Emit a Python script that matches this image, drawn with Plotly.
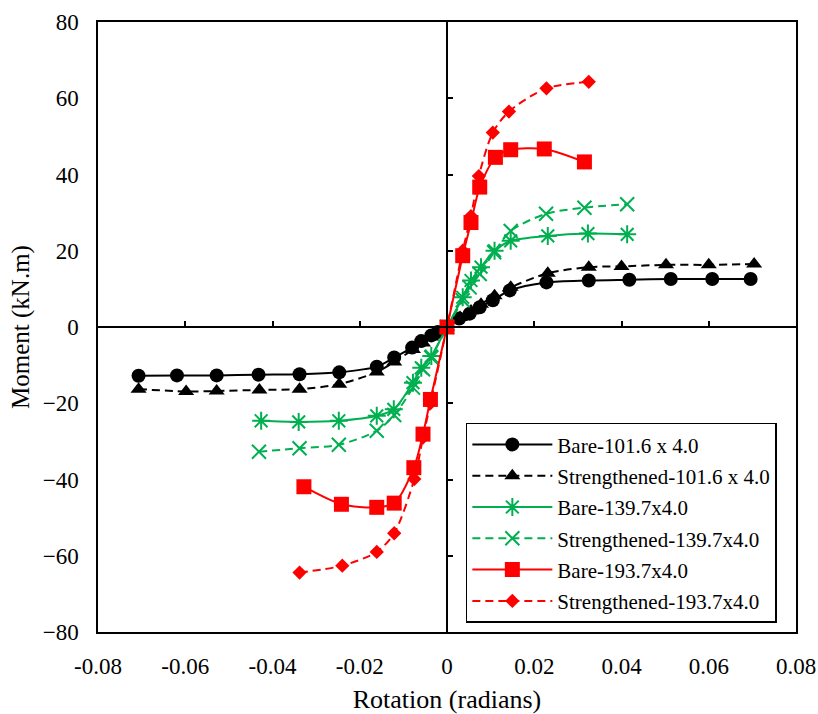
import plotly.graph_objects as go

# ---------------- data ----------------
bare101_x = [-0.0707, -0.0619, -0.0528, -0.0432, -0.0338, -0.0247, -0.0161, -0.0121, -0.0080, -0.0059, -0.0036, -0.0021,
             0.0, 0.0028, 0.0052, 0.0075, 0.0105, 0.0144, 0.0228, 0.0325, 0.0418, 0.0513, 0.0608, 0.0696]
bare101_y = [-12.8, -12.7, -12.7, -12.5, -12.4, -11.9, -10.4, -8.0, -5.4, -3.7, -2.2, -1.3,
             0.0, 2.2, 3.5, 5.2, 7.0, 9.6, 11.7, 12.2, 12.4, 12.6, 12.6, 12.6]

str101_x = [-0.0707, -0.0598, -0.0528, -0.0430, -0.0338, -0.0247, -0.0161, -0.0121, -0.0078, -0.0055, -0.0036,
            0.0, 0.0030, 0.0055, 0.0078, 0.0109, 0.0146, 0.0231, 0.0325, 0.0400, 0.0502, 0.0600, 0.0704]
str101_y = [-16.3, -16.9, -16.8, -16.5, -16.3, -15.0, -11.8, -9.2, -5.9, -4.2, -2.6,
            0.0, 2.5, 4.2, 6.0, 8.2, 10.4, 14.1, 15.7, 15.9, 16.3, 16.3, 16.5]

bare139_x = [-0.0426, -0.0340, -0.0248, -0.0161, -0.0122, -0.0078, -0.0059, -0.0036,
             0.0, 0.0036, 0.0055, 0.0078, 0.0109, 0.0146, 0.0231, 0.0323, 0.0413]
bare139_y = [-24.6, -24.9, -24.6, -23.3, -21.6, -14.6, -10.7, -7.6,
             0.0, 7.8, 12.2, 15.7, 20.0, 22.6, 23.9, 24.5, 24.3]

str139_x = [-0.0431, -0.0338, -0.0248, -0.0161, -0.0121, -0.0078, -0.0055, -0.0036,
            0.0, 0.0036, 0.0052, 0.0075, 0.0108, 0.0146, 0.0227, 0.0315, 0.0413]
str139_y = [-32.7, -31.8, -30.9, -27.2, -23.1, -15.9, -11.1, -8.0,
            0.0, 7.0, 10.4, 13.9, 19.6, 25.2, 29.7, 31.3, 32.2]

bare193_x = [-0.0328, -0.0242, -0.0161, -0.0121, -0.0076, -0.0055, -0.0038,
             0.0, 0.0036, 0.0055, 0.0075, 0.0111, 0.0146, 0.0223, 0.0315]
bare193_y = [-41.9, -46.5, -47.3, -46.2, -36.9, -28.1, -19.0,
             0.0, 18.7, 27.4, 36.7, 44.5, 46.5, 46.7, 43.3]

str193_x = [-0.0338, -0.0240, -0.0161, -0.0121, -0.0075, -0.0055, -0.0038,
            0.0, 0.0036, 0.0055, 0.0073, 0.0105, 0.0142, 0.0228, 0.0325]
str193_y = [-64.4, -62.6, -59.0, -54.1, -39.9, -29.0, -20.0,
            0.0, 20.0, 29.1, 39.6, 51.0, 56.5, 62.6, 64.3]

names = ["Bare-101.6 x 4.0", "Strengthened-101.6 x 4.0", "Bare-139.7x4.0",
         "Strengthened-139.7x4.0", "Bare-193.7x4.0", "Strengthened-193.7x4.0"]

x_ticks = [-0.08, -0.06, -0.04, -0.02, 0, 0.02, 0.04, 0.06, 0.08]
x_tick_text = ["-0.08", "-0.06", "-0.04", "-0.02", "0", "0.02", "0.04", "0.06", "0.08"]
y_ticks = [-80, -60, -40, -20, 0, 20, 40, 60, 80]

# ---------------- styles ----------------
BLACK = "#000000"
GREEN = "#00B050"
RED = "#FF0000"
FONT = "Liberation Serif"
DASH = "8px,5px"

series = [
    (bare101_x, bare101_y, BLACK, "solid", dict(symbol="circle", size=14, color=BLACK)),
    (str101_x, str101_y, BLACK, DASH, dict(symbol="triangle-up", size=14, color=BLACK)),
    (bare139_x, bare139_y, GREEN, "solid",
     dict(symbol="asterisk-open", size=15, color=GREEN, line=dict(color=GREEN, width=2))),
    (str139_x, str139_y, GREEN, DASH,
     dict(symbol="x-thin-open", size=14, color=GREEN, line=dict(color=GREEN, width=2))),
    (bare193_x, bare193_y, RED, "solid", dict(symbol="square", size=15, color=RED)),
    (str193_x, str193_y, RED, DASH, dict(symbol="diamond", size=11, color=RED)),
]

fig = go.Figure()
for i, (xs, ys, col, dash, mk) in enumerate(series):
    fig.add_trace(go.Scatter(
        x=xs, y=ys, name=names[i], mode="lines+markers",
        line=dict(color=col, width=2, dash=dash, shape="spline", smoothing=0.8),
        marker=mk, legendgroup=f"g{i}",
    ))

# dummy trace to activate the axes crossing at the origin
fig.add_trace(go.Scatter(x=[None], y=[None], xaxis="x2", yaxis="y2",
                         showlegend=False, hoverinfo="skip"))

fig.update_layout(
    width=818, height=714,
    margin=dict(l=98, r=22, t=22, b=82),
    paper_bgcolor="white", plot_bgcolor="white",
    font=dict(family=FONT, size=23, color=BLACK),
    showlegend=True,
    legend=dict(
        x=0.527, y=0.343, xanchor="left", yanchor="top",
        bgcolor="white", bordercolor=BLACK, borderwidth=1.5,
        font=dict(family=FONT, size=21, color=BLACK),
        itemwidth=80, tracegroupgap=1,
    ),
    xaxis=dict(
        range=[-0.08, 0.08], tickvals=x_ticks, ticktext=x_tick_text,
        showgrid=False, zeroline=False, automargin=False,
        showline=True, linecolor=BLACK, linewidth=1.5, mirror=True,
        ticks="", ticklabelstandoff=13, tickfont=dict(family=FONT, size=23),
        title=dict(text="Rotation (radians)", font=dict(family=FONT, size=26), standoff=14),
    ),
    yaxis=dict(
        range=[-80, 80], tickvals=y_ticks,
        showgrid=False, zeroline=False, automargin=False,
        showline=True, linecolor=BLACK, linewidth=1.5, mirror=True,
        ticks="", ticklabelstandoff=13, tickfont=dict(family=FONT, size=23),
        title=dict(text="Moment (kN.m)", font=dict(family=FONT, size=25), standoff=6),
    ),
    xaxis2=dict(
        range=[-0.08, 0.08], tickvals=x_ticks, overlaying="x", anchor="free", position=0.5,
        showgrid=False, zeroline=False, showticklabels=False, automargin=False,
        showline=True, linecolor=BLACK, linewidth=2,
        ticks="inside", ticklen=5, tickwidth=1.5, tickcolor=BLACK,
    ),
    yaxis2=dict(
        range=[-80, 80], tickvals=y_ticks, overlaying="y", anchor="free", position=0.5,
        showgrid=False, zeroline=False, showticklabels=False, automargin=False,
        showline=True, linecolor=BLACK, linewidth=2,
        ticks="inside", ticklen=5, tickwidth=1.5, tickcolor=BLACK,
    ),
)

fig.write_html("out.html")
